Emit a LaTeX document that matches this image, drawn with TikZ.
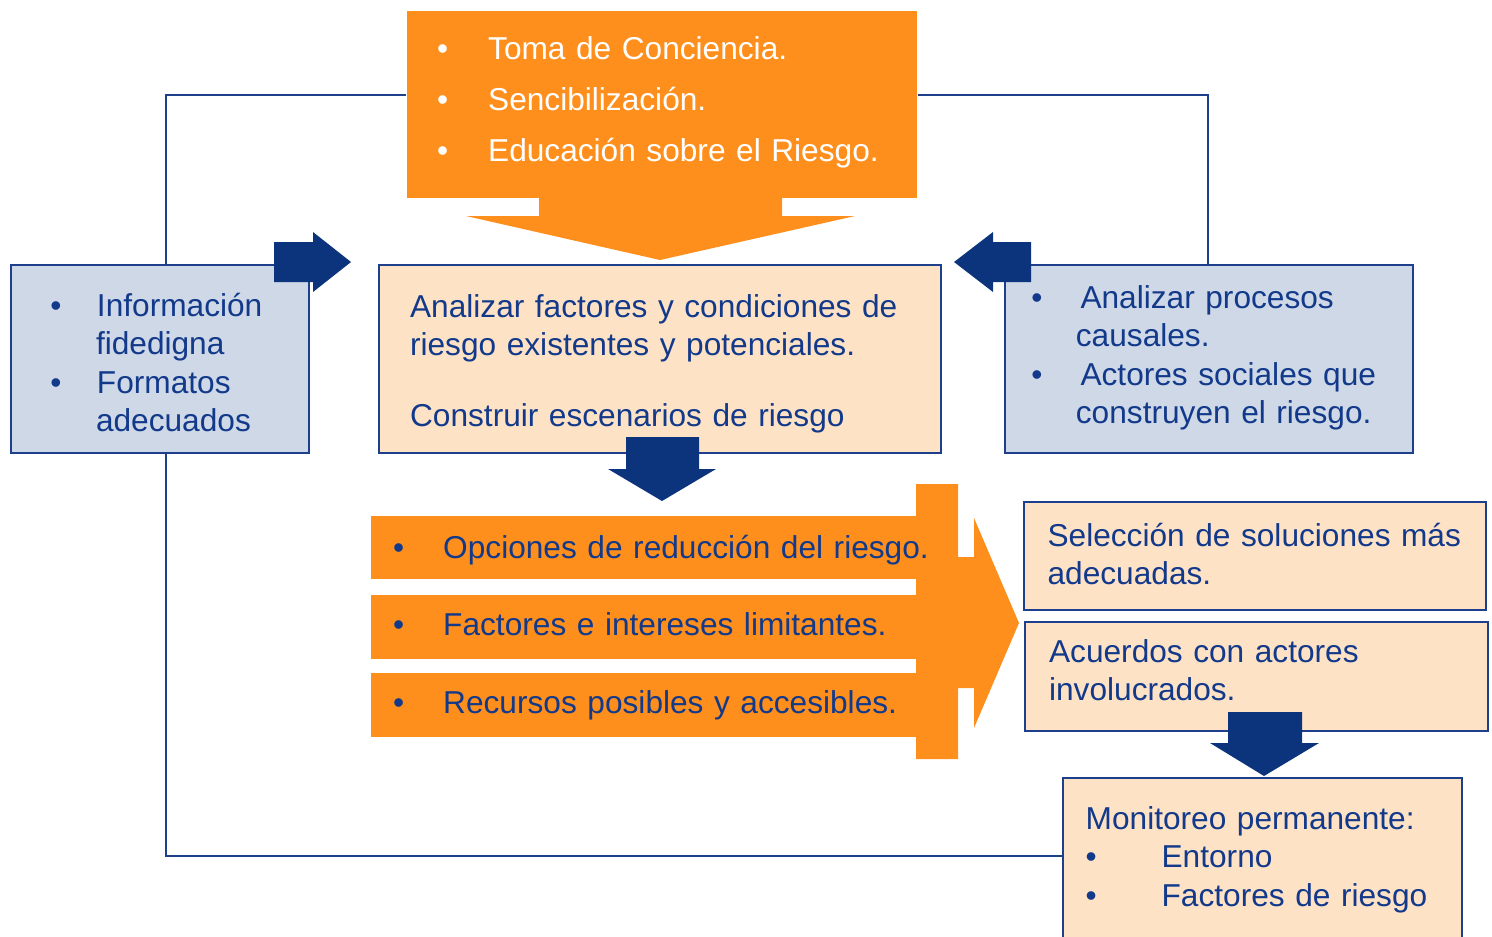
\documentclass[tikz,border=0pt]{standalone}
\usepackage{fontspec}
\setmainfont{Liberation Sans}
\usetikzlibrary{positioning}

\definecolor{orangefill}{HTML}{FF8F1C}
\definecolor{peach}{HTML}{FDE2C6}
\definecolor{paleblue}{HTML}{CED8E7}
\definecolor{boxline}{HTML}{1E3F8C}
\definecolor{arrowblue}{HTML}{0C347C}
\definecolor{textblue}{HTML}{12398A}

\newcommand\blt[1]{\makebox[#1][l]{\textbullet}}
\newcommand\bodyfont{\fontsize{9.0}{10.95}\selectfont}
\newcommand\topfont{\fontsize{9.0}{14.52}\selectfont}

\tikzset{
  box/.style={draw=boxline, line width=0.6pt, anchor=north west, inner ysep=0pt,
    align=left, text=textblue, font=\bodyfont},
  bluebox/.style={box, fill=paleblue},
  peachbox/.style={box, fill=peach},
  bar/.style={fill=orangefill, anchor=north west, inner ysep=0pt, inner xsep=0.224cm,
    text width=5.052cm, align=left, text=textblue, font=\bodyfont},
  link/.style={draw=boxline, line width=0.6pt},
  blockarrow/.style={fill=arrowblue}
}

\begin{document}
\begin{tikzpicture}[x=0.01cm, y=-0.01cm]
\useasboundingbox (0,0) rectangle (1492,936);

% top block with its arrow
\fill[orangefill] (539,195) -- (539,216) -- (466,216) -- (660,260) -- (855,216) -- (782,216) -- (782,195) -- cycle;
\node[fill=orangefill, anchor=north west, inner ysep=0pt, inner xsep=0.304cm, text width=4.492cm,
  text height=0.49cm, text depth=1.38cm, align=left, text=white, font=\topfont] (aware) at (406,10)
  {\blt{0.51cm}Toma de Conciencia.\\\blt{0.51cm}Sencibilización.\\\blt{0.51cm}Educación sobre el Riesgo.};

% boxes of the second row
\node[bluebox, text width=2.19cm, inner xsep=0.394cm, text height=0.51cm, text depth=1.37cm] (info) at (10,264)
  {\blt{0.465cm}Información\\\hspace*{0.455cm}fidedigna\\\blt{0.465cm}Formatos\\\hspace*{0.455cm}adecuados};
\node[peachbox, text width=5.00cm, inner xsep=0.31cm, text height=0.52cm, text depth=1.36cm] (analyze) at (378,264)
  {Analizar factores y condiciones de\\riesgo existentes y potenciales.\\[0.325cm]Construir escenarios de riesgo};
\node[bluebox, text width=3.552cm, inner xsep=0.264cm, text height=0.43cm, text depth=1.45cm] (causes) at (1004,264)
  {\blt{0.49cm}Analizar procesos\\\hspace*{0.444cm}causales.\\\blt{0.49cm}Actores sociales que\\\hspace*{0.444cm}construyen el riesgo.};

% connecting lines
\coordinate (lt) at (166,95);
\coordinate (rt) at (1208,95);
\coordinate (lb) at (166,856);

% big orange arrow and its bars
\fill[orangefill] (916,484) -- (958,484) -- (958,557) -- (974,557) -- (974,518) -- (1019,623)
  -- (974,728) -- (974,688) -- (958,688) -- (958,759) -- (916,759) -- cycle;
\node[bar, text height=0.43cm, text depth=0.20cm] (options) at (370,515)
  {\blt{0.501cm}\mbox{Opciones de reducción del riesgo.}};
\node[bar, text height=0.41cm, text depth=0.23cm] (limits) at (370,594)
  {\blt{0.501cm}\mbox{Factores e intereses limitantes.}};
\node[bar, text height=0.41cm, text depth=0.23cm] (means) at (370,672)
  {\blt{0.501cm}\mbox{Recursos posibles y accesibles.}};

% right column
\node[peachbox, text width=4.15cm, inner xsep=0.235cm, text height=0.44cm, text depth=0.64cm] (select) at (1023,501)
  {\mbox{Selección de soluciones más}\\adecuadas.};
\node[peachbox, text width=4.15cm, inner xsep=0.24cm, text height=0.40cm, text depth=0.69cm] (agree) at (1024,621)
  {Acuerdos con actores\\involucrados.};
\node[peachbox, text width=3.538cm, inner xsep=0.226cm, text height=0.51cm, text depth=1.25cm] (monitor) at (1062,777)
  {Monitoreo permanente:\\\blt{0.759cm}Entorno\\\blt{0.759cm}\mbox{Factores de riesgo}};

\draw[link] (aware.west |- lt) -- (lt) -- (lt |- info.north);
\draw[link] (aware.east |- rt) -- (rt) -- (rt |- causes.north);
\draw[link] (lt |- info.south) -- (lb) -- (lb -| monitor.west);

% blue block arrows
\fill[blockarrow] (274,242) -- (313,242) -- (313,232) -- (351,262) -- (313,292) -- (313,282) -- (274,282) -- cycle;
\fill[blockarrow] (1031,242) -- (993,242) -- (993,232) -- (954,262) -- (993,292) -- (993,282) -- (1031,282) -- cycle;
\fill[blockarrow] (626,437) -- (699,437) -- (699,469) -- (716,469) -- (662,501) -- (608,469) -- (626,469) -- cycle;
\fill[blockarrow] (1228,712) -- (1302,712) -- (1302,743) -- (1319,743) -- (1264,776) -- (1210,743) -- (1228,743) -- cycle;
\end{tikzpicture}
\end{document}
